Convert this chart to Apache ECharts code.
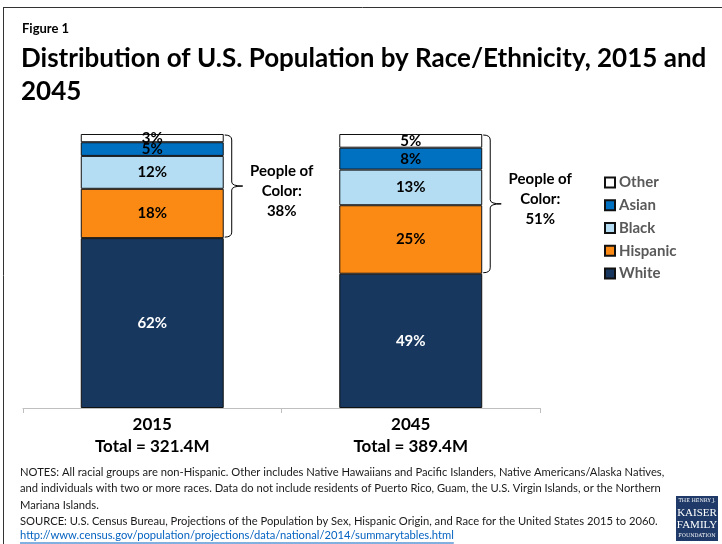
<!DOCTYPE html>
<html>
<head>
<meta charset="utf-8">
<script src="https://cdn.jsdelivr.net/npm/echarts@6/dist/echarts.min.js"></script>
<style>
  html, body { margin: 0; padding: 0; background: #fff; }
  #chart { width: 722px; height: 544px; }
</style>
</head>
<body>
<div id="chart"></div>
<script>
// data (percent of total population)
var years = ['2015', '2045'];
var totals = ['321.4M', '389.4M'];
var white = [62, 49];
var hispanic = [18, 25];
var black = [12, 13];
var asian = [5, 8];
var other = [3, 5];
var legendNames = ['Other', 'Asian', 'Black', 'Hispanic', 'White'];

var FONT = 'Lato, "Open Sans", sans-serif';
var BAR_RATIO = 0.553;

// people of color = everyone who is not non-Hispanic White
var poc = years.map(function (y, i) {
  return hispanic[i] + black[i] + asian[i] + other[i];
});

var notes = 'NOTES: All racial groups are non-Hispanic. Other includes Native Hawaiians and Pacific Islanders, Native Americans/Alaska Natives,\n' +
  'and individuals with two or more races. Data do not include residents of Puerto Rico, Guam, the U.S. Virgin Islands, or the Northern\n' +
  'Mariana Islands.\n' +
  'SOURCE: U.S. Census Bureau, Projections of the Population by Sex, Hispanic Origin, and Race for the United States 2015 to 2060.';
var link = 'http://www.census.gov/population/projections/data/national/2014/summarytables.html';

function textWidth(str, font) {
  var c = document.createElement('canvas').getContext('2d');
  c.font = font;
  return c.measureText(str).width;
}

function barSeries(name, data, color, labelColor) {
  return {
    name: name,
    type: 'bar',
    stack: 'pop',
    barWidth: (BAR_RATIO * 100) + '%',
    data: data,
    itemStyle: { color: color, borderColor: '#111', borderWidth: 1 },
    label: {
      show: true,
      position: 'inside',
      formatter: '{c}%',
      color: labelColor,
      fontFamily: FONT,
      fontWeight: 'bold',
      fontSize: 15
    }
  };
}

var chart = echarts.init(document.getElementById('chart'));

chart.setOption({
  animation: false,
  backgroundColor: '#fff',
  textStyle: { fontFamily: FONT },
  grid: { left: 23, right: 182, top: 134, bottom: 136 },
  legend: {
    data: legendNames,
    orient: 'vertical',
    left: 604,
    top: 175,
    padding: 0,
    icon: 'rect',
    itemWidth: 10,
    itemHeight: 10,
    itemGap: 7.75,
    selectedMode: false,
    textStyle: { color: '#595959', fontFamily: FONT, fontWeight: 'bold', fontSize: 15, lineHeight: 15, padding: [0, 0, 0, -1] }
  },
  xAxis: {
    type: 'category',
    data: years,
    axisLine: { lineStyle: { color: '#bfbfbf' } },
    axisTick: { show: true, length: 5, lineStyle: { color: '#bfbfbf' } },
    axisLabel: {
      margin: 6,
      color: '#000',
      fontFamily: FONT,
      fontWeight: 'bold',
      fontSize: 17,
      lineHeight: 22,
      formatter: function (v, i) { return v + '\nTotal = ' + totals[i]; }
    }
  },
  yAxis: { type: 'value', min: 0, max: 100, show: false, splitLine: { show: false } },
  series: [
    barSeries('White', white, '#17375e', '#fff'),
    barSeries('Hispanic', hispanic, '#fb8a15', '#000'),
    barSeries('Black', black, '#b4ddf3', '#000'),
    barSeries('Asian', asian, '#0070c0', '#000'),
    barSeries('Other', other, '#ffffff', '#000'),
    {
      // braces for "People of Color"
      type: 'custom',
      z: 5,
      data: years.map(function (y, i) { return [i, white[i], 100, poc[i]]; }),
      renderItem: function (params, api) {
        var idx = api.value(0);
        var lo = api.coord([idx, api.value(1)]);
        var hi = api.coord([idx, api.value(2)]);
        var catW = api.size([1, 0])[0];
        var a = lo[0] + catW * BAR_RATIO / 2 + 1;
        var b = a + 7;
        var tip = b + 11;
        var yt = hi[1] + 1, yb = lo[1] - 1, ym = (yt + yb) / 2;
        var d = 'M' + a + ',' + yt + ' Q' + b + ',' + yt + ' ' + b + ',' + (yt + 5) +
          ' L' + b + ',' + (ym - 4) + ' Q' + b + ',' + ym + ' ' + tip + ',' + ym +
          ' M' + tip + ',' + ym + ' Q' + b + ',' + ym + ' ' + b + ',' + (ym + 4) +
          ' L' + b + ',' + (yb - 5) + ' Q' + b + ',' + yb + ' ' + a + ',' + yb;
        return {
          type: 'group',
          children: [
            { type: 'path', shape: { pathData: d }, style: { fill: 'none', stroke: '#000', lineWidth: 1 } },
            {
              type: 'text',
              style: {
                text: 'People of\nColor:\n' + api.value(3) + '%',
                x: tip + 39, y: ym + (idx === 0 ? 5 : -5),
                align: 'center', verticalAlign: 'middle',
                fill: '#000', font: 'bold 15px ' + FONT, lineHeight: 20
              }
            }
          ]
        };
      }
    }
  ],
  graphic: [
    { type: 'line', silent: true, z: 100, shape: { x1: 3, y1: 7.5, x2: 722, y2: 7.5 }, style: { stroke: '#333', lineWidth: 1 } },
    { type: 'line', silent: true, z: 100, shape: { x1: 3.5, y1: 7, x2: 3.5, y2: 544 }, style: { stroke: '#333', lineWidth: 1 } },
    { type: 'text', left: 22, top: 22, style: { text: 'Figure 1', fill: '#000', font: 'bold 13px ' + FONT } },
    {
      type: 'text', left: 21, top: 42,
      style: { text: 'Distribution of U.S. Population by Race/Ethnicity, 2015 and\n2045', fill: '#000', font: 'bold 26px ' + FONT, lineHeight: 33 }
    },
    { type: 'text', left: 20, top: 464, style: { text: notes, fill: '#1a1a1a', font: '11.2px ' + FONT, lineHeight: 16.5 } },
    { type: 'text', left: 20, top: 530, style: { text: link, fill: '#0563c1', font: '11.2px ' + FONT } },
    {
      type: 'line', silent: true,
      shape: { x1: 20, y1: 543, x2: 20 + textWidth(link, '11.2px ' + FONT), y2: 543 },
      style: { stroke: '#0563c1', lineWidth: 1 }
    },
    {
      type: 'group', left: 676, top: 496,
      children: [
        { type: 'rect', shape: { x: 0, y: 0, width: 42, height: 45 }, style: { fill: '#1f3a68' } },
        { type: 'text', style: { text: 'THE HENRY J.', x: 21, y: 5, align: 'center', verticalAlign: 'middle', fill: '#fff', font: '5px "DejaVu Serif", serif' } },
        { type: 'text', style: { text: 'KAISER', x: 21, y: 17, align: 'center', verticalAlign: 'middle', fill: '#fff', font: '11px "Liberation Serif", serif' } },
        { type: 'text', style: { text: 'FAMILY', x: 21, y: 29, align: 'center', verticalAlign: 'middle', fill: '#fff', font: '11px "Liberation Serif", serif' } },
        { type: 'text', style: { text: 'FOUNDATION', x: 21, y: 40, align: 'center', verticalAlign: 'middle', fill: '#fff', font: '5px "DejaVu Serif", serif' } }
      ]
    }
  ]
});
</script>
</body>
</html>
